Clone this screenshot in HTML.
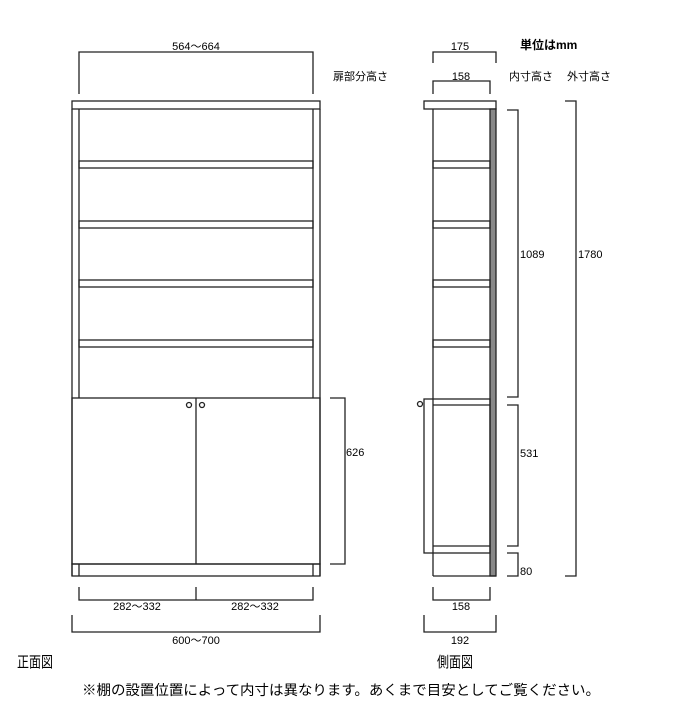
<!DOCTYPE html>
<html><head><meta charset="utf-8"><style>
html,body{margin:0;padding:0;background:#fff;}
svg{display:block;}
text{font-family:"Liberation Sans","Noto Sans CJK JP",sans-serif;fill:#000;}
</style></head><body>
<svg width="700" height="714" viewBox="0 0 700 714" xmlns="http://www.w3.org/2000/svg">
<g fill="none" stroke="#222" stroke-width="1.3">
<!-- FRONT -->
<rect x="72" y="101" width="248" height="8"/>
<line x1="72" y1="109" x2="72" y2="576"/>
<line x1="79" y1="109" x2="79" y2="398"/>
<line x1="313" y1="109" x2="313" y2="398"/>
<line x1="320" y1="109" x2="320" y2="576"/>
<rect x="79" y="161" width="234" height="7"/>
<rect x="79" y="221" width="234" height="7"/>
<rect x="79" y="280" width="234" height="7"/>
<rect x="79" y="340" width="234" height="7"/>
<rect x="72" y="398" width="248" height="166"/>
<line x1="196" y1="398" x2="196" y2="564"/>
<rect x="72" y="564" width="248" height="12"/>
<line x1="79" y1="564" x2="79" y2="576"/>
<line x1="313" y1="564" x2="313" y2="576"/>
<circle cx="189" cy="405" r="2.5"/>
<circle cx="202" cy="405" r="2.5"/>
<!-- front dims -->
<polyline points="79,94 79,52 313,52 313,94"/>
<polyline points="79,587 79,600 313,600 313,587"/>
<line x1="196" y1="587" x2="196" y2="600"/>
<polyline points="72,615 72,632 320,632 320,615"/>
<polyline points="330,398 345,398 345,564 330,564"/>
<!-- SIDE -->
<rect x="424" y="101" width="72" height="8"/>
<line x1="433" y1="109" x2="433" y2="576"/>
<rect x="490" y="109" width="6" height="467" fill="#888"/>
<line x1="433" y1="576" x2="496" y2="576"/>
<rect x="433" y="161" width="57" height="7"/>
<rect x="433" y="221" width="57" height="7"/>
<rect x="433" y="280" width="57" height="7"/>
<rect x="433" y="340" width="57" height="7"/>
<rect x="424" y="399" width="66" height="154"/>
<line x1="433" y1="405" x2="490" y2="405"/>
<line x1="433" y1="546" x2="490" y2="546"/>
<circle cx="420" cy="404" r="2.5"/>
<!-- side dims -->
<polyline points="433,63 433,52 496,52 496,63"/>
<polyline points="433,94 433,81 490,81 490,94"/>
<polyline points="507,110 518,110 518,397 507,397"/>
<polyline points="507,405 518,405 518,546 507,546"/>
<polyline points="507,553 518,553 518,576 507,576"/>
<polyline points="565,101 576,101 576,576 565,576"/>
<polyline points="433,587 433,600 490,600 490,587"/>
<polyline points="424,615 424,632 496,632 496,615"/>
</g>
<g font-size="11">
<text x="196" y="50" text-anchor="middle">564～664</text>
<text x="333" y="80">扉部分高さ</text>
<text x="346" y="456">626</text>
<text x="137" y="610" text-anchor="middle">282～332</text>
<text x="255" y="610" text-anchor="middle">282～332</text>
<text x="196" y="644" text-anchor="middle">600～700</text>
<text x="460" y="50" text-anchor="middle">175</text>
<text x="461" y="80" text-anchor="middle">158</text>
<text x="509" y="80">内寸高さ</text>
<text x="567" y="80">外寸高さ</text>
<text x="520" y="258">1089</text>
<text x="578" y="258">1780</text>
<text x="520" y="457">531</text>
<text x="520" y="575">80</text>
<text x="461" y="610" text-anchor="middle">158</text>
<text x="460" y="644" text-anchor="middle">192</text>
</g>
<text x="520" y="49" font-size="12" font-weight="bold">単位はmm</text>
<text x="17" y="667" font-size="15" textLength="36" lengthAdjust="spacingAndGlyphs">正面図</text>
<text x="437" y="667" font-size="15" textLength="36" lengthAdjust="spacingAndGlyphs">側面図</text>
<text x="82" y="695" font-size="14" textLength="518" lengthAdjust="spacingAndGlyphs">※棚の設置位置によって内寸は異なります。あくまで目安としてご覧ください。</text>
</svg>
</body></html>
